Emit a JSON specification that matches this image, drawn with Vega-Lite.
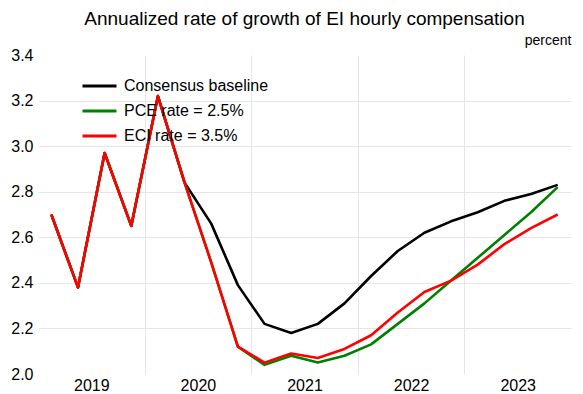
{
  "$schema": "https://vega.github.io/schema/vega-lite/v6.json",
  "width": 533,
  "height": 319,
  "autosize": "none",
  "padding": {"left": 38, "top": 55, "right": 12, "bottom": 20},
  "background": "white",
  "title": {
    "text": "Annualized rate of growth of EI hourly compensation",
    "font": "Liberation Sans",
    "fontSize": 19,
    "fontWeight": "normal",
    "color": "black",
    "anchor": "middle",
    "frame": "group",
    "baseline": "alphabetic",
    "offset": 10,
    "dy": 21
  },
  "config": {
    "view": {"stroke": null},
    "font": "Liberation Sans",
    "axis": {"labelFont": "Liberation Sans", "titleFont": "Liberation Sans"},
    "legend": {"labelFont": "Liberation Sans"}
  },
  "data": {
    "values": [
      {"s": "Consensus baseline", "t": 2019.125, "v": 2.70},
      {"s": "Consensus baseline", "t": 2019.375, "v": 2.38},
      {"s": "Consensus baseline", "t": 2019.625, "v": 2.97},
      {"s": "Consensus baseline", "t": 2019.875, "v": 2.65},
      {"s": "Consensus baseline", "t": 2020.125, "v": 3.22},
      {"s": "Consensus baseline", "t": 2020.375, "v": 2.84},
      {"s": "Consensus baseline", "t": 2020.625, "v": 2.66},
      {"s": "Consensus baseline", "t": 2020.875, "v": 2.39},
      {"s": "Consensus baseline", "t": 2021.125, "v": 2.22},
      {"s": "Consensus baseline", "t": 2021.375, "v": 2.18},
      {"s": "Consensus baseline", "t": 2021.625, "v": 2.22},
      {"s": "Consensus baseline", "t": 2021.875, "v": 2.31},
      {"s": "Consensus baseline", "t": 2022.125, "v": 2.43},
      {"s": "Consensus baseline", "t": 2022.375, "v": 2.54},
      {"s": "Consensus baseline", "t": 2022.625, "v": 2.62},
      {"s": "Consensus baseline", "t": 2022.875, "v": 2.67},
      {"s": "Consensus baseline", "t": 2023.125, "v": 2.71},
      {"s": "Consensus baseline", "t": 2023.375, "v": 2.76},
      {"s": "Consensus baseline", "t": 2023.625, "v": 2.79},
      {"s": "Consensus baseline", "t": 2023.875, "v": 2.83},
      {"s": "PCE rate = 2.5%", "t": 2019.125, "v": 2.70},
      {"s": "PCE rate = 2.5%", "t": 2019.375, "v": 2.38},
      {"s": "PCE rate = 2.5%", "t": 2019.625, "v": 2.97},
      {"s": "PCE rate = 2.5%", "t": 2019.875, "v": 2.65},
      {"s": "PCE rate = 2.5%", "t": 2020.125, "v": 3.22},
      {"s": "PCE rate = 2.5%", "t": 2020.375, "v": 2.84},
      {"s": "PCE rate = 2.5%", "t": 2020.625, "v": 2.49},
      {"s": "PCE rate = 2.5%", "t": 2020.875, "v": 2.12},
      {"s": "PCE rate = 2.5%", "t": 2021.125, "v": 2.04},
      {"s": "PCE rate = 2.5%", "t": 2021.375, "v": 2.08},
      {"s": "PCE rate = 2.5%", "t": 2021.625, "v": 2.05},
      {"s": "PCE rate = 2.5%", "t": 2021.875, "v": 2.08},
      {"s": "PCE rate = 2.5%", "t": 2022.125, "v": 2.13},
      {"s": "PCE rate = 2.5%", "t": 2022.375, "v": 2.22},
      {"s": "PCE rate = 2.5%", "t": 2022.625, "v": 2.31},
      {"s": "PCE rate = 2.5%", "t": 2022.875, "v": 2.41},
      {"s": "PCE rate = 2.5%", "t": 2023.125, "v": 2.51},
      {"s": "PCE rate = 2.5%", "t": 2023.375, "v": 2.61},
      {"s": "PCE rate = 2.5%", "t": 2023.625, "v": 2.71},
      {"s": "PCE rate = 2.5%", "t": 2023.875, "v": 2.82},
      {"s": "ECI rate = 3.5%", "t": 2019.125, "v": 2.70},
      {"s": "ECI rate = 3.5%", "t": 2019.375, "v": 2.38},
      {"s": "ECI rate = 3.5%", "t": 2019.625, "v": 2.97},
      {"s": "ECI rate = 3.5%", "t": 2019.875, "v": 2.65},
      {"s": "ECI rate = 3.5%", "t": 2020.125, "v": 3.22},
      {"s": "ECI rate = 3.5%", "t": 2020.375, "v": 2.84},
      {"s": "ECI rate = 3.5%", "t": 2020.625, "v": 2.49},
      {"s": "ECI rate = 3.5%", "t": 2020.875, "v": 2.12},
      {"s": "ECI rate = 3.5%", "t": 2021.125, "v": 2.05},
      {"s": "ECI rate = 3.5%", "t": 2021.375, "v": 2.09},
      {"s": "ECI rate = 3.5%", "t": 2021.625, "v": 2.07},
      {"s": "ECI rate = 3.5%", "t": 2021.875, "v": 2.11},
      {"s": "ECI rate = 3.5%", "t": 2022.125, "v": 2.17},
      {"s": "ECI rate = 3.5%", "t": 2022.375, "v": 2.27},
      {"s": "ECI rate = 3.5%", "t": 2022.625, "v": 2.36},
      {"s": "ECI rate = 3.5%", "t": 2022.875, "v": 2.41},
      {"s": "ECI rate = 3.5%", "t": 2023.125, "v": 2.48},
      {"s": "ECI rate = 3.5%", "t": 2023.375, "v": 2.57},
      {"s": "ECI rate = 3.5%", "t": 2023.625, "v": 2.64},
      {"s": "ECI rate = 3.5%", "t": 2023.875, "v": 2.70}
    ]
  },
  "mark": {"type": "line", "strokeWidth": 2.6, "strokeJoin": "round"},
  "encoding": {
    "x": {
      "field": "t",
      "type": "quantitative",
      "scale": {"domain": [2019, 2024], "nice": false, "zero": false},
      "axis": {
        "title": null,
        "values": [2020, 2021, 2022, 2023, 2024],
        "labelExpr": "'' + (datum.value - 1)",
        "labelOffset": -53.3,
        "labelFlush": false,
        "labelOverlap": false,
        "labelFontSize": 16,
        "labelColor": "black",
        "labelPadding": 3,
        "domain": false,
        "ticks": false,
        "grid": true,
        "gridWidth": 1,
        "gridColor": {"condition": {"test": "datum.value > 2023.5", "value": "transparent"}, "value": "#e6e6e6"}
      }
    },
    "y": {
      "field": "v",
      "type": "quantitative",
      "scale": {"domain": [2.0, 3.4], "nice": false, "zero": false},
      "axis": {
        "values": [2.0, 2.2, 2.4, 2.6, 2.8, 3.0, 3.2, 3.4],
        "format": ".1f",
        "labelFontSize": 16,
        "labelColor": "black",
        "labelPadding": 5,
        "labelFlush": false,
        "labelOverlap": false,
        "domain": false,
        "ticks": false,
        "grid": true,
        "gridWidth": 1,
        "gridColor": {"condition": {"test": "datum.value < 2.05 || datum.value > 3.35", "value": "transparent"}, "value": "#e6e6e6"},
        "title": "percent",
        "titleAngle": 0,
        "titleX": 533,
        "titleY": -11,
        "titleAlign": "right",
        "titleBaseline": "alphabetic",
        "titleFontSize": 14,
        "titleFontWeight": "normal",
        "titleColor": "black"
      }
    },
    "color": {
      "field": "s",
      "type": "nominal",
      "sort": null,
      "scale": {
        "domain": ["Consensus baseline", "PCE rate = 2.5%", "ECI rate = 3.5%"],
        "range": ["#000000", "#008000", "#ff0000"]
      },
      "legend": {
        "title": null,
        "orient": "none",
        "legendX": 43,
        "legendY": 20,
        "symbolType": "stroke",
        "symbolStrokeWidth": 3,
        "symbolSize": 1156,
        "labelFontSize": 16,
        "labelColor": "black",
        "labelOffset": 6,
        "clipHeight": 22,
        "rowPadding": 3
      }
    }
  }
}
